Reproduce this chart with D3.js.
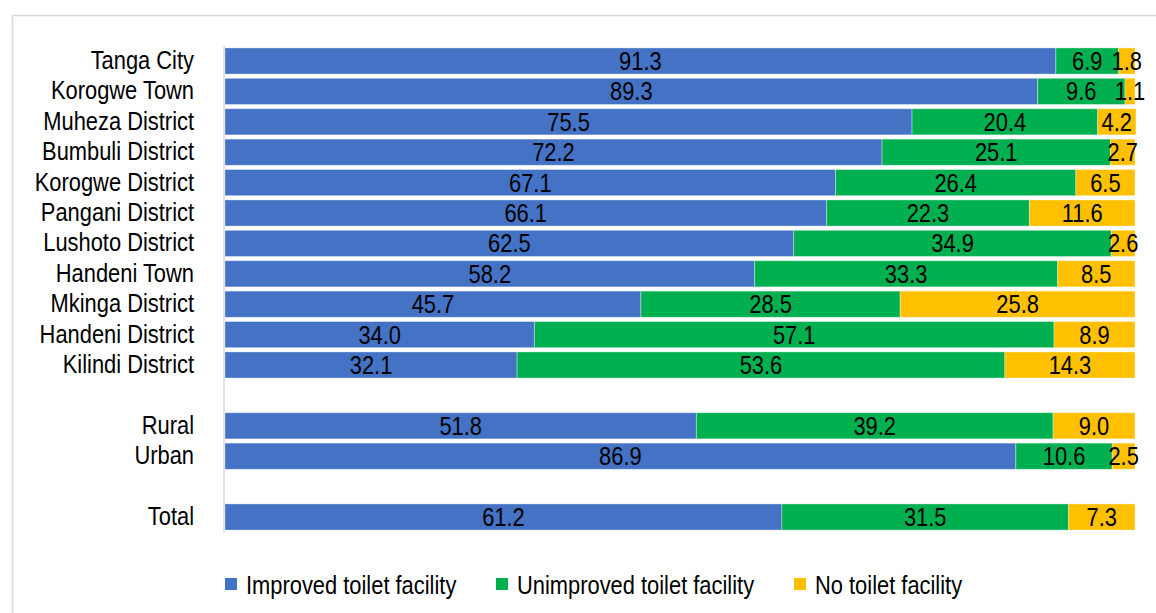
<!DOCTYPE html>
<html>
<head>
<meta charset="utf-8">
<script src="https://cdn.jsdelivr.net/npm/d3@7"></script>
<style>
  html, body { margin: 0; padding: 0; background: #fff; }
  svg text { font-family: "Liberation Sans", Arial, sans-serif; }
</style>
</head>
<body>
<svg id="chart" width="1156" height="613"></svg>
<script>
// Row labels, top to bottom; "_gapN" entries are empty spacer rows
const rows = [
  "Tanga City", "Korogwe Town", "Muheza District", "Bumbuli District",
  "Korogwe District", "Pangani District", "Lushoto District", "Handeni Town",
  "Mkinga District", "Handeni District", "Kilindi District",
  "_gap1", "Rural", "Urban", "_gap2", "Total"
];
const categories = [
  "Tanga City", "Korogwe Town", "Muheza District", "Bumbuli District",
  "Korogwe District", "Pangani District", "Lushoto District", "Handeni Town",
  "Mkinga District", "Handeni District", "Kilindi District",
  "Rural", "Urban", "Total"
];
const improved   = [91.3, 89.3, 75.5, 72.2, 67.1, 66.1, 62.5, 58.2, 45.7, 34.0, 32.1, 51.8, 86.9, 61.2];
const unimproved = [6.9, 9.6, 20.4, 25.1, 26.4, 22.3, 34.9, 33.3, 28.5, 57.1, 53.6, 39.2, 10.6, 31.5];
const noFacility = [1.8, 1.1, 4.2, 2.7, 6.5, 11.6, 2.6, 8.5, 25.8, 8.9, 14.3, 9.0, 2.5, 7.3];
const seriesNames = ["Improved toilet facility", "Unimproved toilet facility", "No toilet facility"];
const seriesColors = ["#4472C4", "#00B050", "#FFC000"];

const FONT_SIZE = 25;
const NARROW = 0.875; // horizontal condensing of all text

// Squeeze a text element horizontally, keeping its anchor
function condense(sel) {
  sel.each(function () {
    const w = this.getComputedTextLength();
    if (w > 0) {
      d3.select(this).attr("textLength", w * NARROW).attr("lengthAdjust", "spacingAndGlyphs");
    }
  });
}

const svg = d3.select("#chart");

// Outer chart frame
svg.append("rect")
  .attr("x", 12.5).attr("y", 15.5)
  .attr("width", 1160).attr("height", 620)
  .attr("fill", "#fff").attr("stroke", "#d9d9d9").attr("stroke-width", 1.5);

const table = categories.map((c, i) => ({
  cat: c, improved: improved[i], unimproved: unimproved[i], none: noFacility[i]
}));
const keys = ["improved", "unimproved", "none"];
const stacked = d3.stack().keys(keys)(table);

const x = d3.scaleLinear().domain([0, 100]).range([225, 1135]);
const y = d3.scaleBand().domain(rows).range([45.8, 532.2]).paddingInner(0.14).paddingOuter(0.07);

// Bars
const groups = svg.append("g").selectAll("g")
  .data(stacked).join("g")
  .attr("fill", (d, i) => seriesColors[i]);

groups.selectAll("rect")
  .data(d => d.map(v => ({ v, cat: v.data.cat })))
  .join("rect")
  .attr("x", d => x(d.v[0]))
  .attr("y", d => y(d.cat))
  .attr("width", d => x(d.v[1]) - x(d.v[0]))
  .attr("height", y.bandwidth())
  .attr("stroke", "#ffffff").attr("stroke-opacity", 0.35).attr("stroke-width", 1);

// Value labels centred in each segment
groups.selectAll("text")
  .data(d => d.map(v => ({ v, cat: v.data.cat, val: v[1] - v[0] })))
  .join("text")
  .attr("x", d => (x(d.v[0]) + x(d.v[1])) / 2)
  .attr("y", d => y(d.cat) + y.bandwidth() / 2)
  .attr("dy", "0.36em")
  .attr("text-anchor", "middle")
  .attr("fill", "#000")
  .attr("font-size", FONT_SIZE)
  .text(d => d3.format(".1f")(d.val))
  .call(condense);

// Category axis
const yAxis = svg.append("g")
  .attr("transform", "translate(224,0)")
  .call(d3.axisLeft(y).tickSize(0).tickPadding(30).tickFormat(d => d.startsWith("_") ? "" : d));
yAxis.select(".domain").attr("stroke", "#d9d9d9").attr("stroke-width", 1.5)
  .attr("d", `M0,${45.8}V${532.2}`);
yAxis.selectAll("text")
  .attr("font-size", FONT_SIZE).attr("fill", "#000")
  .style("font-family", "'Liberation Sans', Arial, sans-serif")
  .call(condense);

// Legend
const legendX = [225, 496, 794];
const legend = svg.append("g").selectAll("g")
  .data(seriesNames).join("g")
  .attr("transform", (d, i) => `translate(${legendX[i]},578)`);
legend.append("rect").attr("width", 12).attr("height", 12)
  .attr("fill", (d, i) => seriesColors[i]);
legend.append("text").attr("x", 21).attr("y", 7).attr("dy", "0.36em")
  .attr("font-size", FONT_SIZE).attr("fill", "#000").text(d => d)
  .call(condense);
</script>
</body>
</html>
